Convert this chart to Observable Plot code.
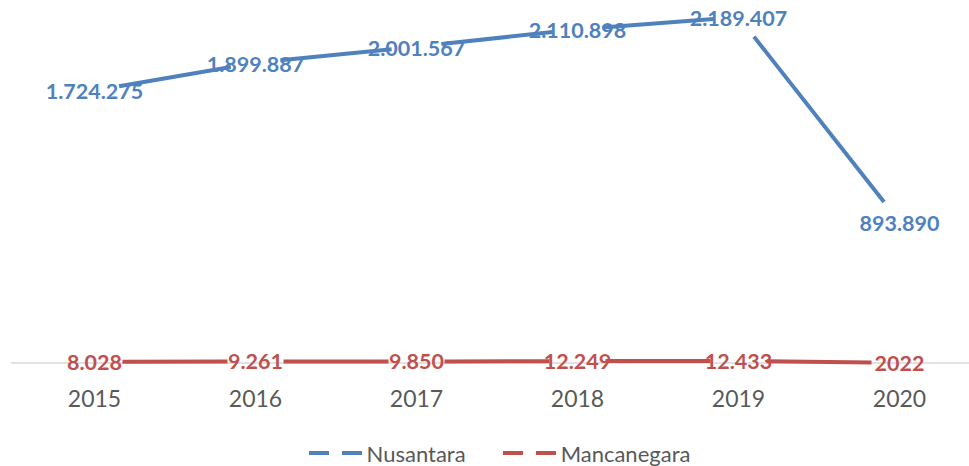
<!DOCTYPE html>
<html>
<head>
<meta charset="utf-8">
<script src="https://cdn.jsdelivr.net/npm/d3@7"></script>
<script src="https://cdn.jsdelivr.net/npm/@observablehq/plot@0.6"></script>
<style>
  body { margin: 0; background: #fff; font-family: Lato, "Open Sans", sans-serif; }
  #legend { height: 46px; display: flex; justify-content: center; align-items: center; padding-left: 30px; padding-top: 20px; box-sizing: border-box; gap: 37px; color: #595959; font-size: 22px; }
  .item { display: flex; align-items: center; gap: 4px; }
</style>
</head>
<body>
<div id="chart"></div>
<div id="legend"></div>
<script>
const years = ["2015", "2016", "2017", "2018", "2019", "2020"];
const nusantara = [1724275, 1899887, 2001567, 2110898, 2189407, 893890];
const mancanegara = [8028, 9261, 9850, 12249, 12433, 2022];
const nusantaraLabels = ["1.724.275", "1.899.887", "2.001.567", "2.110.898", "2.189.407", "893.890"];
const mancanegaraLabels = ["8.028", "9.261", "9.850", "12.249", "12.433", "2022"];
const seriesNames = ["Nusantara", "Mancanegara"];
const colors = ["#4F81BD", "#C0504D"];

const pts = (vals, labels) => years.map((y, i) => ({year: y, value: vals[i], label: labels[i]}));
const segs = (vals) => years.slice(0, -1).map((y, i) => ({x1: y, y1: vals[i], x2: years[i + 1], y2: vals[i + 1]}));

const nPts = pts(nusantara, nusantaraLabels);
const mPts = pts(mancanegara, mancanegaraLabels);

const chart = Plot.plot({
  width: 969,
  height: 420,
  marginLeft: 11,
  marginRight: 0,
  marginTop: 0,
  marginBottom: 57.5,
  x: {type: "point", domain: years, range: [92, 900], padding: 0},
  y: {domain: [0, 2300000], range: [362.5, -1], axis: null},
  marks: [
    Plot.ruleY([0], {stroke: "#d9d9d9", strokeWidth: 1.5}),
    Plot.axisX({tickSize: 0, tickPadding: 28, fontSize: 23, fill: "#595959", fontFamily: "Lato"}),
    Plot.arrow(segs(nusantara), {x1: "x1", y1: "y1", x2: "x2", y2: "y2", stroke: colors[0], strokeWidth: 4, headLength: 0, insetStart: 25, insetEnd: 25, strokeLinecap: "butt"}),
    Plot.arrow(segs(mancanegara), {x1: "x1", y1: "y1", x2: "x2", y2: "y2", stroke: colors[1], strokeWidth: 4, headLength: 0, insetStart: 28, insetEnd: 28, strokeLinecap: "butt"}),
    Plot.text(nPts, {x: "year", y: "value", text: "label", fill: colors[0], fontSize: 21.5, fontWeight: "bold", fontFamily: "Lato", dy: 2}),
    Plot.text(mPts, {x: "year", y: "value", text: "label", fill: colors[1], fontSize: 21.5, fontWeight: "bold", fontFamily: "Lato", dy: 1})
  ]
});
document.getElementById("chart").appendChild(chart);

const legend = document.getElementById("legend");
seriesNames.forEach((name, i) => {
  const item = document.createElement("div");
  item.className = "item";
  item.innerHTML = `<svg width="54" height="8"><line x1="0" y1="4" x2="54" y2="4" stroke="${colors[i]}" stroke-width="4" stroke-dasharray="20,13"/></svg><span>${name}</span>`;
  legend.appendChild(item);
});
</script>
</body>
</html>
